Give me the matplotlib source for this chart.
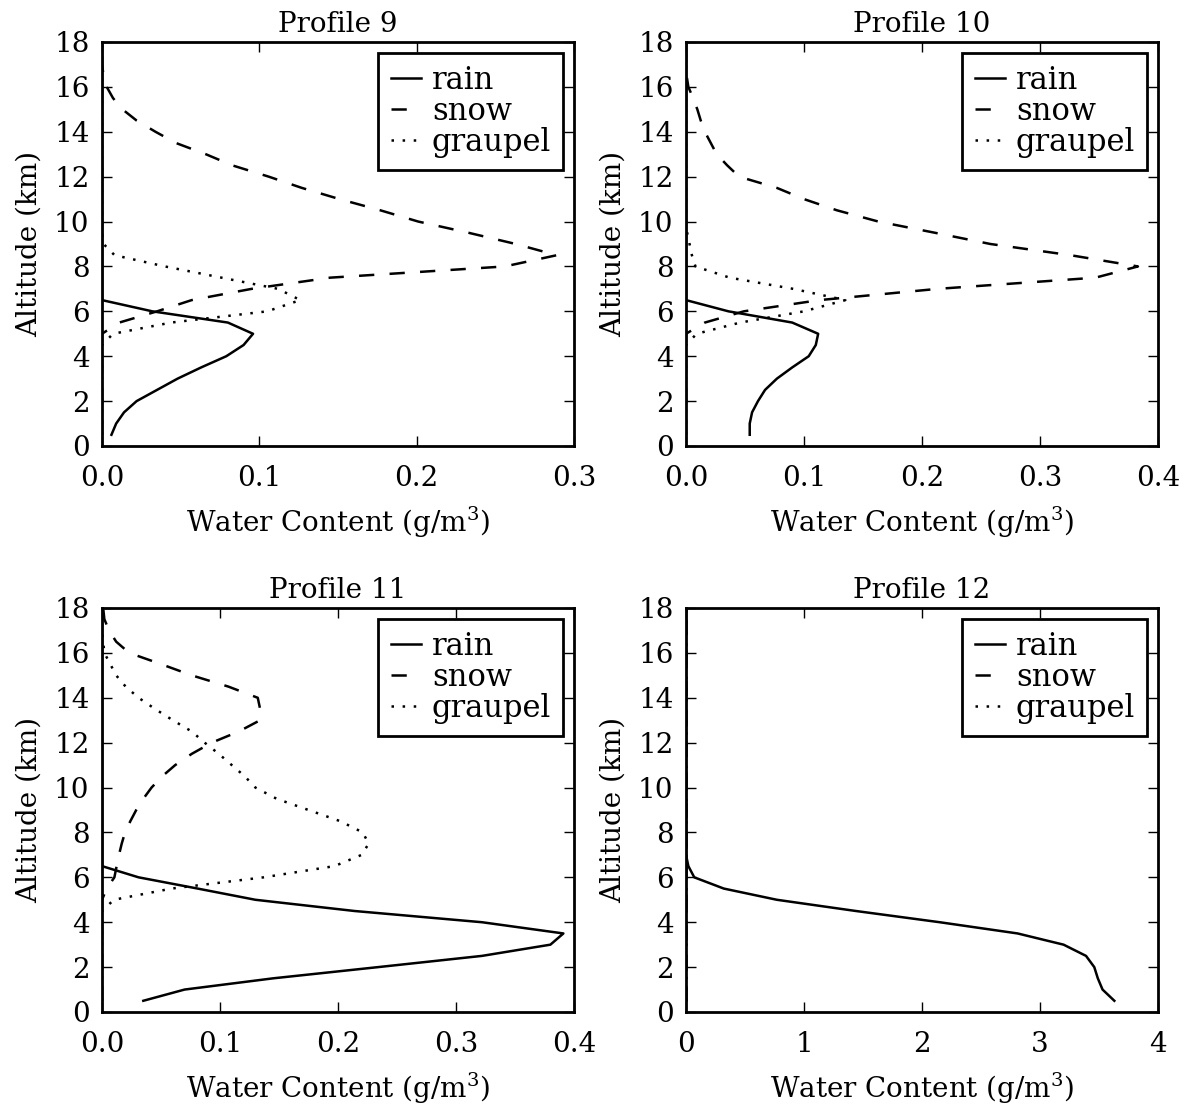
import matplotlib
matplotlib.use('Agg')
import matplotlib.pyplot as plt

plt.rcParams['font.family'] = 'DejaVu Serif'
plt.rcParams['mathtext.fontset'] = 'dejavuserif'
plt.rcParams['font.size'] = 20
plt.rcParams['lines.scale_dashes'] = False

# altitude levels (km)
altitude = [0.5, 1.0, 1.5, 2.0, 2.5, 3.0, 3.5, 4.0, 4.5, 5.0, 5.5, 6.0,
            6.5, 7.0, 7.5, 8.0, 8.5, 9.0, 9.5, 10.0, 10.5, 11.0, 11.5, 12.0,
            12.5, 13.0, 13.5, 14.0, 14.5, 15.0, 15.5, 16.0, 16.5, 17.0, 17.5, 18.0]

# Profile 9
rain_9 = [0.006, 0.009, 0.014, 0.022, 0.035, 0.048, 0.063, 0.079, 0.090, 0.096, 0.080, 0.032,
          0.0, 0, 0, 0, 0, 0, 0, 0, 0, 0, 0, 0, 0, 0, 0, 0, 0, 0, 0, 0, 0, 0, 0, 0]
snow_9 = [0, 0, 0, 0, 0, 0, 0, 0, 0, 0.0, 0.011, 0.035,
          0.057, 0.095, 0.145, 0.256, 0.289, 0.263, 0.233, 0.201, 0.177, 0.151, 0.127, 0.106,
          0.083, 0.066, 0.047, 0.034, 0.022, 0.013, 0.007, 0.003, 0.001, 0, 0, 0]
graupel_9 = [0, 0, 0, 0, 0, 0, 0, 0, 0, 0.007, 0.044, 0.105,
             0.126, 0.112, 0.076, 0.040, 0.008, 0.001, 0, 0, 0, 0, 0, 0,
             0, 0, 0, 0, 0, 0, 0, 0, 0, 0, 0, 0]

# Profile 10
rain_10 = [0.054, 0.054, 0.056, 0.061, 0.067, 0.077, 0.090, 0.104, 0.110, 0.112, 0.090, 0.036,
           0.0, 0, 0, 0, 0, 0, 0, 0, 0, 0, 0, 0, 0, 0, 0, 0, 0, 0, 0, 0, 0, 0, 0, 0]
snow_10 = [0, 0, 0, 0, 0, 0, 0, 0, 0, 0.0, 0.016, 0.049,
           0.113, 0.213, 0.347, 0.383, 0.326, 0.258, 0.211, 0.163, 0.128, 0.100, 0.077, 0.045,
           0.035, 0.026, 0.021, 0.016, 0.0125, 0.0096, 0.006, 0.002, 0.0005, 0, 0, 0]
graupel_10 = [0, 0, 0, 0, 0, 0, 0, 0, 0, 0.009, 0.046, 0.100,
              0.135, 0.091, 0.037, 0.008, 0.005, 0.003, 0.001, 0, 0, 0, 0, 0,
              0, 0, 0, 0, 0, 0, 0, 0, 0, 0, 0, 0]

# Profile 11
rain_11 = [0.035, 0.070, 0.145, 0.234, 0.322, 0.380, 0.391, 0.322, 0.214, 0.130, 0.081, 0.031,
           0.0, 0, 0, 0, 0, 0, 0, 0, 0, 0, 0, 0, 0, 0, 0, 0, 0, 0, 0, 0, 0, 0, 0, 0]
snow_11 = [0, 0, 0, 0, 0, 0, 0, 0, 0, 0.0, 0.004, 0.0105,
           0.0124, 0.0144, 0.0167, 0.0195, 0.024, 0.029, 0.035, 0.042, 0.051, 0.062, 0.076, 0.093,
           0.116, 0.134, 0.134, 0.132, 0.107, 0.076, 0.050, 0.023, 0.012, 0.006, 0.002, 0.001]
graupel_11 = [0, 0, 0, 0, 0, 0, 0, 0, 0, 0.010, 0.059, 0.137,
              0.197, 0.220, 0.226, 0.221, 0.202, 0.175, 0.148, 0.130, 0.121, 0.110, 0.099, 0.087,
              0.076, 0.060, 0.045, 0.031, 0.020, 0.012, 0.007, 0.002, 0.001, 0, 0, 0]

# Profile 12
rain_12 = [3.63, 3.53, 3.49, 3.46, 3.39, 3.20, 2.81, 2.15, 1.44, 0.77, 0.32, 0.07,
           0.02, 0.0, 0, 0, 0, 0, 0, 0, 0, 0, 0, 0, 0, 0, 0, 0, 0, 0, 0, 0, 0, 0, 0, 0]
snow_12 = [0] * 36
graupel_12 = [0] * 36

profiles = [
    ('Profile 9', rain_9, snow_9, graupel_9, 0.3, [0.0, 0.1, 0.2, 0.3], ['0.0', '0.1', '0.2', '0.3']),
    ('Profile 10', rain_10, snow_10, graupel_10, 0.4, [0.0, 0.1, 0.2, 0.3, 0.4], ['0.0', '0.1', '0.2', '0.3', '0.4']),
    ('Profile 11', rain_11, snow_11, graupel_11, 0.4, [0.0, 0.1, 0.2, 0.3, 0.4], ['0.0', '0.1', '0.2', '0.3', '0.4']),
    ('Profile 12', rain_12, snow_12, graupel_12, 4, [0, 1, 2, 3, 4], ['0', '1', '2', '3', '4']),
]

fig = plt.figure(figsize=(11.93, 11.06), dpi=100)
W, H = 1193.0, 1106.0
boxes = [(102, 446), (686, 446), (102, 1012), (686, 1012)]

for (title, rain, snow, graupel, xmax, xt, xtl), (x0, y0) in zip(profiles, boxes):
    ax = fig.add_axes([x0 / W, (H - y0) / H, 472 / W, 404 / H])
    ax.plot(rain, altitude, color='black', lw=1.8, label='rain')
    ax.plot(snow, altitude, color='black', lw=1.8, dashes=(11, 11), label='snow')
    ax.plot(graupel, altitude, color='black', lw=1.8, dashes=(1.8, 6.2), label='graupel')
    ax.set_xlim(0, xmax)
    ax.set_ylim(0, 18)
    ax.set_xticks(xt)
    ax.set_xticklabels(xtl)
    ax.set_yticks(range(0, 19, 2))
    ax.tick_params(direction='in', top=True, right=True, length=7, width=1.0)
    ax.tick_params(axis='x', pad=14)
    ax.tick_params(axis='y', pad=9)
    for s in ax.spines.values():
        s.set_linewidth(2.0)
    ax.set_title(title, fontsize=20, pad=7)
    ax.set_xlabel('Water Content (g/m$^3$)', labelpad=9)
    ax.set_ylabel('Altitude (km)', labelpad=8)
    leg = ax.legend(loc='upper right', handlelength=1.0, handletextpad=0.35,
                    labelspacing=0.0, borderpad=0.4, borderaxespad=0.35,
                    fancybox=False, framealpha=1, fontsize=22)
    leg.get_frame().set_edgecolor('black')
    leg.get_frame().set_linewidth(2.0)

fig.savefig('out.png', dpi=100)
